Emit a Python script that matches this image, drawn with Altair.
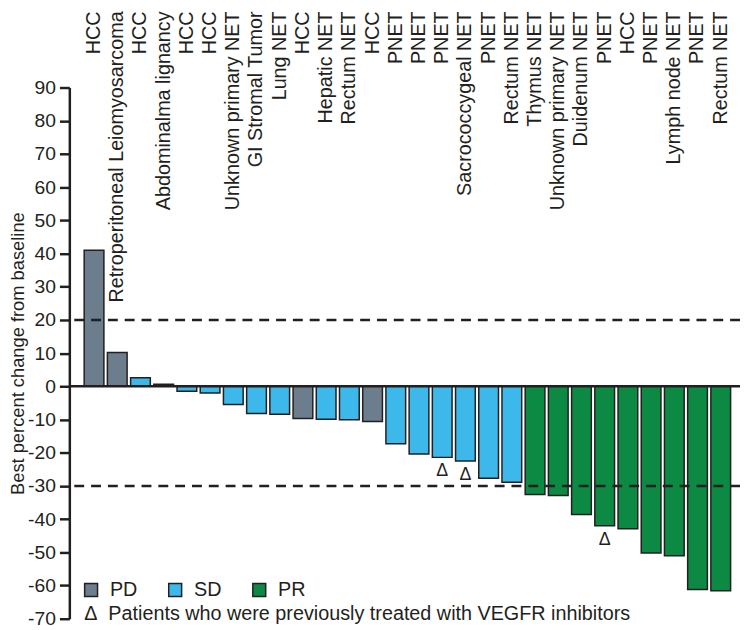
import altair as alt
import pandas as pd

labels = ["HCC", "Retroperitoneal Leiomyosarcoma", "HCC", "Abdominalma lignancy", "HCC", "HCC",
          "Unknown primary NET", "GI Stromal Tumor", "Lung NET", "HCC", "Hepatic NET", "Rectum NET",
          "HCC", "PNET", "PNET", "PNET", "Sacrococcygeal NET", "PNET", "Rectum NET", "Thymus NET",
          "Unknown primary NET", "Duidenum NET", "PNET", "HCC", "PNET", "Lymph node NET", "PNET",
          "Rectum NET"]
values = [41.0, 10.2, 2.6, 0.6, -1.5, -2.0, -5.5, -8.2, -8.4, -9.7, -9.9, -10.1, -10.6,
          -17.3, -20.4, -21.4, -22.5, -27.7, -28.9, -32.6, -32.9, -38.6, -42.0, -42.9,
          -50.2, -51.0, -61.2, -61.6]
status = ["PD", "PD", "SD", "PD", "SD", "SD", "SD", "SD", "SD", "PD", "SD", "SD", "PD",
          "SD", "SD", "SD", "SD", "SD", "SD", "PR", "PR", "PR", "PR", "PR", "PR", "PR", "PR", "PR"]
vegfr = [0, 0, 0, 0, 0, 0, 0, 0, 0, 0, 0, 0, 0, 0, 0, 1, 1, 0, 0, 0, 0, 0, 1, 0, 0, 0, 0, 0]
ref_lines = [20, -30]
y_ticks = list(range(-70, 100, 10))
status_names = ["PD", "SD", "PR"]
status_colors = ["#6c7d8d", "#3db8ea", "#0c8a43"]
note_text = ["\u0394\u00a0\u00a0Patients who were previously treated with VEGFR inhibitors"]

FONT = "Liberation Sans"
INK = "#231f20"
FS = 20

df = pd.DataFrame({
    "id": list(range(1, len(values) + 1)),
    "label": labels,
    "value": values,
    "status": status,
    "vegfr": vegfr,
})
tri_df = df[df["vegfr"] == 1].assign(sym="\u0394")
ref_df = pd.DataFrame({"value": ref_lines})
zero_df = pd.DataFrame({"value": [0]})
note_df = pd.DataFrame({"t": note_text})

xscale = alt.Scale(range=[15, 668.5], paddingInner=0.15, paddingOuter=0, round=False)
yscale = alt.Scale(domain=[-70, 90], nice=False, zero=False)
yaxis = alt.Axis(values=y_ticks, grid=False, tickSize=10, tickWidth=2.5,
                 domainWidth=2.5, domainColor=INK, tickColor=INK,
                 labelFontSize=19.5, labelColor=INK, labelFont=FONT, labelPadding=4,
                 labelOverlap=False, labelExpr="'' + datum.value",
                 title="Best percent change from baseline", titleFont=FONT,
                 titleFontSize=18.5, titleFontWeight="normal", titleColor=INK,
                 titlePadding=0)
x = alt.X("id:O", scale=xscale, axis=None, sort=None)
y = alt.Y("value:Q", scale=yscale, axis=yaxis)

bars = alt.Chart(df).mark_bar(stroke=INK, strokeWidth=1.5).encode(
    x=x,
    y=y,
    y2=alt.datum(0),
    color=alt.Color("status:N",
                    scale=alt.Scale(domain=status_names, range=status_colors),
                    legend=alt.Legend(title=None, orient="none", legendX=12, legendY=498,
                                      direction="horizontal", symbolType="square",
                                      symbolSize=170, symbolStrokeColor=INK,
                                      symbolStrokeWidth=1.5, symbolOpacity=1,
                                      labelFontSize=FS, labelFont=FONT, labelColor=INK,
                                      labelOffset=9, columnPadding=28)),
)

dashed = alt.Chart(ref_df).mark_rule(strokeDash=[10, 7], strokeWidth=2.5, color=INK).encode(
    y=y
)
zero = alt.Chart(zero_df).mark_rule(strokeWidth=2.5, color=INK).encode(
    y=y
)

top_labels = alt.Chart(df).mark_text(angle=270, align="right", baseline="middle",
                                     fontSize=FS, font=FONT, color=INK).encode(
    x=x,
    y=alt.value(-77),
    text="label:N",
)

tris = alt.Chart(tri_df).mark_text(baseline="top", dy=5, fontSize=18, font=FONT,
                                   color=INK).encode(
    x=x,
    y=y,
    text="sym:N",
)

note = alt.Chart(note_df).mark_text(align="left", baseline="middle", fontSize=FS,
                                    font=FONT, color=INK).encode(
    x=alt.value(15),
    y=alt.value(532),
    text="t:N",
)

chart = alt.layer(bars, dashed, zero, top_labels, tris, note).properties(
    width=678, height=537,
    autosize=alt.AutoSizeParams(type="none"),
    padding={"left": 62, "top": 77, "right": 0, "bottom": 8},
    background="white",
).configure_view(stroke=None).configure_axis(labelOverlap=False)

chart.save("out.html", embed_options={"renderer": "svg", "actions": False})
